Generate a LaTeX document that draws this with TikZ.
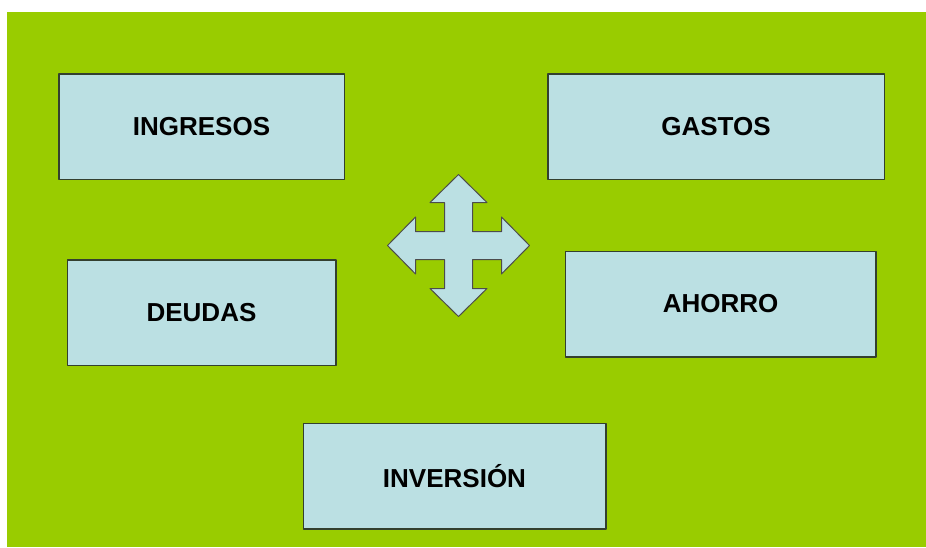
\documentclass[tikz,border=0pt]{standalone}
\usepackage{fontspec}
\setmainfont{Liberation Sans}
\usepackage{xcolor}
\definecolor{grassgreen}{HTML}{99CC00}
\definecolor{paleblue}{HTML}{BBE0E3}
\definecolor{boxline}{HTML}{33402F}

\begin{document}
\begin{tikzpicture}[line cap=round,line join=round,x=1pt,y=-1pt,
    concept/.style={draw=boxline,line width=1.5pt,fill=paleblue,minimum height=105.5pt,
        font=\fontsize{26}{30}\selectfont\bfseries,inner sep=0pt}]

    % page and green background
    \useasboundingbox (0,0) rectangle (926,547);
    \fill[color=grassgreen] (7,12) rectangle (926,547);

    % the five boxes
    \node[concept,minimum width=285.5pt] (ingresos) at (201.5,126.5) {INGRESOS};
    \node[concept,minimum width=336.5pt] (gastos) at (716,126.5) {GASTOS};
    \node[concept,minimum width=268.5pt] (deudas) at (201.5,312.5) {DEUDAS};
    \node[concept,minimum width=310.5pt] (ahorro) at (720.7,304) {AHORRO};
    \node[concept,minimum width=302.5pt] (inversion) at (454.5,476) {INVERSIÓN};

    % four-way arrow in the middle
    \draw [line width=1pt,color=black!70,fill=paleblue] (458.5,174.5) -- (487,202.5) -- (472.5,202.5) -- (472.5,231.5) -- (501.5,231.5) -- (501.5,217) -- (529.5,245.5) -- (501.5,274) -- (501.5,259.5) -- (472.5,259.5) -- (472.5,288.5) -- (487,288.5) -- (458.5,316.5) -- (430,288.5) -- (444.5,288.5) -- (444.5,259.5) -- (415.5,259.5) -- (415.5,274) -- (387.5,245.5) -- (415.5,217) -- (415.5,231.5) -- (444.5,231.5) -- (444.5,202.5) -- (430,202.5) -- cycle;
\end{tikzpicture}
\end{document}
